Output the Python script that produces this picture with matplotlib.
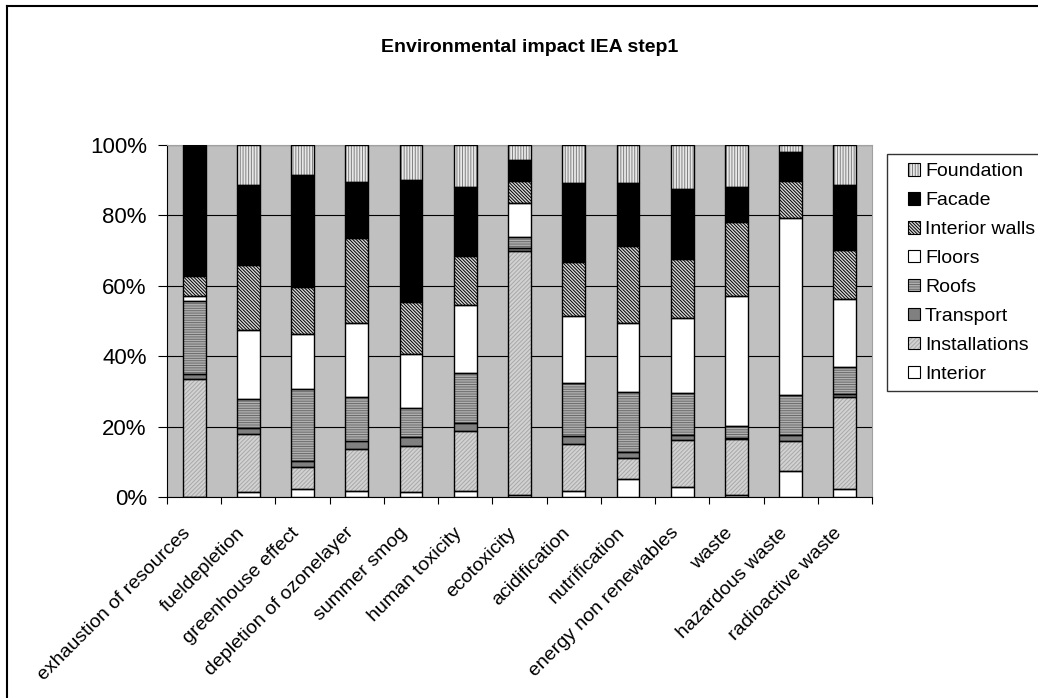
import numpy as np
import matplotlib
matplotlib.use("Agg")
import matplotlib.pyplot as plt
import matplotlib.transforms as mtransforms
from matplotlib.patches import Patch, Rectangle
from matplotlib.lines import Line2D
from matplotlib.legend_handler import HandlerTuple, HandlerPatch
from matplotlib.ticker import FixedLocator, PercentFormatter

plt.rcParams["font.family"] = ["Liberation Sans", "DejaVu Sans"]
plt.rcParams["hatch.linewidth"] = 0.7

categories = [
    "exhaustion of resources", "fueldepletion", "greenhouse effect",
    "depletion of ozonelayer", "summer smog", "human toxicity", "ecotoxicity",
    "acidification", "nutrification", "energy non renewables", "waste",
    "hazardous waste", "radioactive waste",
]

# share of each building part per impact category, in percent (bottom to top)
interior = [0.0, 1.3, 2.2, 1.8, 1.3, 1.8, 0.6, 1.8, 5.1, 2.7, 0.6, 7.4, 2.2]
installations = [33.4, 16.7, 6.3, 11.9, 13.3, 17.0, 69.2, 13.3, 5.9, 13.6, 15.8, 8.4, 26.3]
transport = [1.5, 1.5, 1.8, 2.2, 2.5, 2.2, 0.9, 2.1, 1.8, 1.4, 0.3, 1.8, 0.8]
roofs = [20.8, 8.4, 20.3, 12.5, 8.3, 14.2, 3.1, 15.1, 16.9, 11.9, 3.6, 11.3, 7.6]
floors = [1.5, 19.5, 15.7, 20.9, 15.2, 19.3, 9.8, 19.1, 19.6, 21.3, 36.9, 50.5, 19.3]
interior_walls = [5.7, 18.4, 13.5, 24.4, 14.9, 13.9, 6.3, 15.3, 22.0, 16.7, 20.8, 10.5, 14.1]
facade = [37.1, 22.7, 31.7, 15.7, 34.5, 19.7, 5.9, 22.6, 18.0, 19.9, 10.2, 8.1, 18.2]
foundation = [0.0, 11.5, 8.5, 10.6, 10.0, 11.9, 4.2, 10.7, 10.7, 12.5, 11.9, 2.0, 11.5]

series = [
    ("Interior", interior, "white", "", "black"),
    ("Installations", installations, "#d2d2d2", "////////", "#a8a8a8"),
    ("Transport", transport, "#808080", "", "#808080"),
    ("Roofs", roofs, "#b0b0b0", "-------", "#6a6a6a"),
    ("Floors", floors, "white", "", "white"),
    ("Interior walls", interior_walls, "#d8d8d8", "\\\\\\\\\\\\\\\\\\\\", "black"),
    ("Facade", facade, "black", "", "black"),
    ("Foundation", foundation, "#e8e8e8", "||||||", "#808080"),
]


def square_patch(legend, orig_handle, xdescent, ydescent, width, height, fontsize):
    s = 9.0
    return Rectangle((width - s - xdescent, (height - s) / 2 - ydescent), s, s)


fig = plt.figure(figsize=(10.38, 6.98), dpi=100)
ax = fig.add_axes([167 / 1038, 1 - 497 / 698, 705 / 1038, 352 / 698])
ax.set_facecolor("#c0c0c0")

x = np.arange(len(categories))
width = 0.42
bottom = np.zeros(len(categories))
handles = []
for name, vals, face, hatch, hcol in series:
    vals = np.array(vals, dtype=float)
    # filled layer (hatch colour follows edgecolor), then black outline on top
    ax.bar(x, vals, width, bottom=bottom, color=face, hatch=hatch,
           edgecolor=hcol, linewidth=0, zorder=2)
    ax.bar(x, vals, width, bottom=bottom, fill=False, edgecolor="black",
           linewidth=1.0, zorder=3)
    bottom += vals
    handles.append((Patch(facecolor=face, hatch=hatch, edgecolor=hcol, linewidth=0),
                    Patch(fill=False, edgecolor="black", linewidth=0.8)))

ax.set_xlim(-0.5, len(categories) - 0.5)
ax.set_ylim(0, 100)
ax.yaxis.set_major_locator(FixedLocator([0, 20, 40, 60, 80, 100]))
ax.yaxis.set_major_formatter(PercentFormatter(decimals=0))
ax.grid(axis="y", color="black", linewidth=0.8, zorder=1)
ax.set_axisbelow(True)
ax.tick_params(axis="y", labelsize=16, length=6.5, width=0.8, pad=8)

ax.set_xticks(np.arange(len(categories) + 1) - 0.5)
ax.set_xticklabels([])
ax.tick_params(axis="x", which="major", length=5, width=0.8, direction="out")
ax.set_xticks(x, minor=True)
ax.set_xticklabels(categories, minor=True, rotation=45, ha="right", va="center",
                   rotation_mode="anchor", fontsize=14)
ax.tick_params(axis="x", which="minor", length=0, pad=24)
shift = mtransforms.ScaledTranslation(-6 / 100, 0, fig.dpi_scale_trans)
for lbl in ax.get_xticklabels(minor=True):
    lbl.set_transform(lbl.get_transform() + shift)

for side in ["top", "right"]:
    ax.spines[side].set_color("#a0a0a0")
    ax.spines[side].set_linewidth(0.8)
ax.spines["left"].set_color("black")
ax.spines["bottom"].set_color("black")
ax.spines["left"].set_linewidth(0.8)
ax.spines["bottom"].set_linewidth(0.8)

fig.text(530 / 1038, 1 - 48 / 698, "Environmental impact IEA step1", ha="center",
         va="center", fontsize=14, fontweight="bold")

labels = [s[0] for s in series]
leg = fig.legend(handles[::-1], labels[::-1], loc="upper left",
                 bbox_to_anchor=(887 / 1038, 1 - 154 / 698),
                 handler_map={tuple: HandlerTuple(ndivide=1, pad=0),
                              Patch: HandlerPatch(patch_func=square_patch)},
                 fontsize=14, frameon=True, fancybox=False, handlelength=1.25,
                 handleheight=0.7, handletextpad=0.25, labelspacing=0.58,
                 borderpad=0.45, borderaxespad=0)
leg.get_frame().set_edgecolor("black")
leg.get_frame().set_linewidth(1.0)

# outer chart frame: only left and top edges fall inside the picture
fig.lines.append(Line2D([7 / 1038, 7 / 1038], [0, 1 - 6 / 698], transform=fig.transFigure,
                        color="black", linewidth=1.5))
fig.lines.append(Line2D([7 / 1038, 1], [1 - 6 / 698, 1 - 6 / 698], transform=fig.transFigure,
                        color="black", linewidth=1.5))

fig.savefig("out.png", dpi=100)
